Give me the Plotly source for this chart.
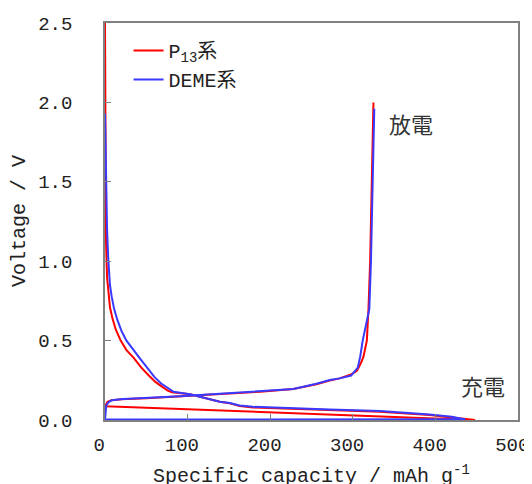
import plotly.graph_objects as go

# P13 series: first discharge, return segment, charge
p13_x = [0, 0.5, 0.8, 1.2, 2.5, 4, 6, 9, 13, 19, 26, 35, 44, 53, 61, 69, 76, 81, 90, 103, 115,
         139, 151, 163, 179, 192, 252, 272, 333, 393, 421, 440, 448,
         0, 1, 3, 8, 20, 50, 91, 115, 150, 188, 228, 256, 272, 284, 297, 305, 310, 313, 317,
         319, 321, 323, 325]
p13_v = [2.5, 2.0, 1.5, 1.13, 0.9, 0.8, 0.71, 0.64, 0.57, 0.5, 0.44, 0.39, 0.33, 0.28, 0.24,
         0.21, 0.185, 0.175, 0.17, 0.162, 0.147, 0.115, 0.105, 0.088, 0.079, 0.077, 0.067,
         0.062, 0.052, 0.031, 0.017, 0.008, 0.0,
         0.087, 0.1, 0.115, 0.125, 0.13, 0.137, 0.148, 0.157, 0.168, 0.178, 0.195, 0.225, 0.248,
         0.262, 0.285, 0.31, 0.36, 0.40, 0.5, 0.7, 1.0, 1.45, 2.0]

# DEME series
deme_x = [0, 0.6, 1.3, 2.5, 4, 6, 8, 11, 15, 20, 26, 33, 42, 51, 60, 68, 76, 83, 103, 115,
          139, 151, 163, 179, 192, 252, 272, 333, 393, 420, 436,
          0, 0.5, 1.5, 4, 8, 22, 50, 91, 115, 150, 188, 228, 256, 272, 284, 298, 306, 309, 312,
          320, 322, 324, 326]
deme_v = [1.93, 1.7, 1.49, 1.2, 1.01, 0.85, 0.78, 0.7, 0.63, 0.56, 0.5, 0.45, 0.39, 0.33, 0.27,
          0.23, 0.2, 0.178, 0.162, 0.147, 0.115, 0.107, 0.092, 0.083, 0.08, 0.07, 0.066, 0.056,
          0.035, 0.02, 0.004,
          0.003, 0.05, 0.09, 0.11, 0.124, 0.132, 0.138, 0.15, 0.157, 0.168, 0.178, 0.195, 0.228,
          0.252, 0.262, 0.28, 0.33, 0.4, 0.5, 0.7, 1.0, 1.5, 1.96]

x_ticks = [0, 100, 200, 300, 400, 500]
y_ticks = [0.0, 0.5, 1.0, 1.5, 2.0, 2.5]

FONT = "Liberation Mono, Noto Sans CJK JP"
CJK = "Noto Sans CJK JP"
AX = "#808080"

fig = go.Figure()
fig.add_trace(go.Scatter(x=p13_x, y=p13_v, mode="lines", name="P<sub>13</sub>系",
                         line=dict(color="#ff0000", width=2)))
fig.add_trace(go.Scatter(x=deme_x, y=deme_v, mode="lines", name="DEME系",
                         line=dict(color="#3a3aff", width=2)))

fig.update_layout(
    width=524, height=476,
    margin=dict(l=97, r=14, t=15, b=64, autoexpand=False),
    paper_bgcolor="white", plot_bgcolor="white",
    font=dict(family=FONT, size=19, color="#222222"),
    showlegend=True,
    legend=dict(x=0.057, y=0.98, xanchor="left", yanchor="top",
                bgcolor="rgba(0,0,0,0)", font=dict(family=FONT, size=20),
                tracegroupgap=0, itemwidth=30),
    xaxis=dict(range=[0, 500], tickvals=x_ticks,
               ticktext=[f"{v}\u00a0" for v in x_ticks],
               ticks="inside", ticklen=6, tickcolor=AX, showline=True, linecolor=AX,
               linewidth=1.5, mirror=True, showgrid=False, zeroline=False,
               ticklabelstandoff=6, automargin=False, ticklabeloverflow="allow"),
    yaxis=dict(range=[0, 2.5], tickvals=y_ticks, ticktext=[f"{v:.1f}" for v in y_ticks],
               ticks="inside", ticklen=6, tickcolor=AX, showline=True, linecolor=AX,
               linewidth=1.5, mirror=True, showgrid=False, zeroline=False,
               ticklabelstandoff=27, automargin=False, ticklabeloverflow="allow"),
    annotations=[
        dict(text="Specific capacity / mAh g<sup>-1</sup>", xref="paper", yref="paper",
             x=0.5, y=-0.102, xanchor="center", yanchor="top", showarrow=False,
             font=dict(family=FONT, size=20)),
        dict(text="Voltage / V", xref="paper", yref="paper", x=-0.207, y=0.5,
             xanchor="center", yanchor="middle", textangle=-90, showarrow=False,
             font=dict(family=FONT, size=20)),
        dict(text="放電", xref="x", yref="y", x=370, y=1.87, xanchor="center",
             yanchor="middle", showarrow=False, font=dict(family=CJK, size=22, color="#333333")),
        dict(text="充電", xref="x", yref="y", x=458, y=0.22, xanchor="center",
             yanchor="middle", showarrow=False, font=dict(family=CJK, size=22, color="#333333")),
    ],
)

fig.write_html("out.html")
